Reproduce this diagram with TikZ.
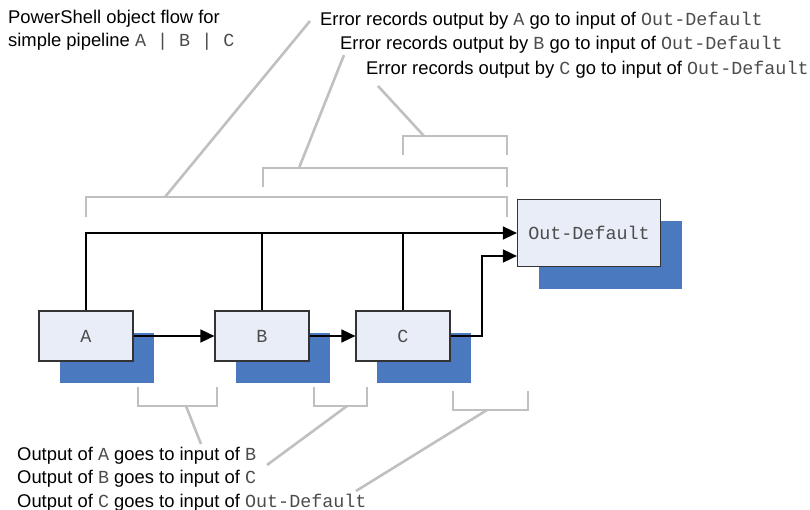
\documentclass[tikz,border=0pt]{standalone}
\usepackage{fontspec}
\setmainfont{Liberation Sans}
\setmonofont{Liberation Mono}
\usetikzlibrary{arrows.meta, shadows}

\definecolor{boxfill}{RGB}{232,237,247}
\definecolor{shadowblue}{RGB}{74,121,191}
\definecolor{bracegray}{RGB}{192,192,192}
\newcommand{\cmd}[1]{{\fontsize{18.4}{22}\selectfont\ttfamily\color{black!70}#1}}

\begin{document}
\begin{tikzpicture}[x=1pt, y=-1pt,
    box/.style={draw=black!80, line width=1.2pt, fill=boxfill, inner sep=0pt,
        minimum width=94pt, minimum height=50pt,
        font=\fontsize{18.4}{22}\selectfont\ttfamily\color{black!70},
        drop shadow={shadow xshift=21pt, shadow yshift=-22pt, fill=shadowblue, opacity=1}},
    flow/.style={line width=1.6pt, -{Triangle[length=14pt, width=13pt]}},
    link/.style={line width=1.6pt},
    brace/.style={draw=bracegray, line width=2.6pt},
    label/.style={anchor=base west, inner sep=0pt, font=\fontsize{18.4}{22}\selectfont}]
    \useasboundingbox (0,0) rectangle (810,510);

    % title
    \node[label] (title1) at (8,23.5) {PowerShell object flow for};
    \node[label] (title2) at (8,46.5) {simple pipeline \cmd{A | B | C}};

    % error records
    \node[label] (err1) at (320,26) {Error records output by \cmd{A} go to input of \cmd{Out-Default}};
    \node[label] (err2) at (340,50) {Error records output by \cmd{B} go to input of \cmd{Out-Default}};
    \node[label] (err3) at (366,75) {Error records output by \cmd{C} go to input of \cmd{Out-Default}};

    % output
    \node[label] (out1) at (17,460) {Output of \cmd{A} goes to input of \cmd{B}};
    \node[label] (out2) at (17,483.5) {Output of \cmd{B} goes to input of \cmd{C}};
    \node[label] (out3) at (17,507) {Output of \cmd{C} goes to input of \cmd{Out-Default}};

    % pipeline
    \node[box] (A) at (86,336) {A};
    \node[box] (B) at (262,336) {B};
    \node[box] (C) at (403,336) {C};
    \node[box, minimum width=143pt, minimum height=67pt] (OD) at (589,233) {Out-Default};
    \coordinate (ODin) at ([yshift=-23pt]OD.west);

    \draw[flow] (A.north) |- (OD.west);
    \draw[link] (B.north) -- (B.north |- OD.west);
    \draw[link] (C.north) -- (C.north |- OD.west);
    \draw[flow] (A.east) -- (B.west);
    \draw[flow] (B.east) -- (C.west);
    \draw[flow] (C.east) -- ++(31.5,0) |- (ODin);

    % brackets for error records
    \draw[brace] (86,217) -- (86,197) -- (507,197) -- (507,217);
    \draw[brace] (165,197) -- (310,21);
    \draw[brace] (263,187) -- (263,168) -- (507,168) -- (507,187);
    \draw[brace] (299,168) -- (344,55);
    \draw[brace] (403,155) -- (403,136) -- (507,136) -- (507,155);
    \draw[brace] (424,136) -- (378,86);

    % brackets for output
    \draw[brace] (138,387) -- (138,406) -- (217,406) -- (217,387);
    \draw[brace] (186,406) -- (201,444);
    \draw[brace] (314,387) -- (314,406) -- (367,406) -- (367,387);
    \draw[brace] (347,406) -- (267,465);
    \draw[brace] (453,391) -- (453,410) -- (528,410) -- (528,391);
    \draw[brace] (487,410) -- (356,491);
\end{tikzpicture}
\end{document}
